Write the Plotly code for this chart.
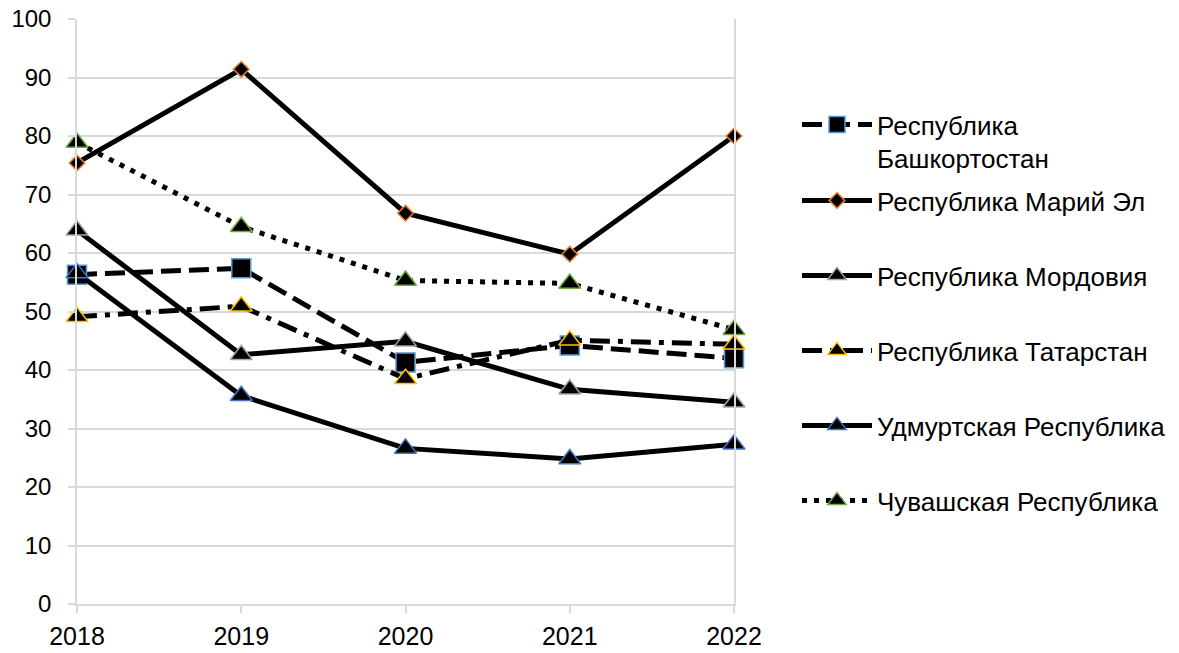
import plotly.graph_objects as go

years = [2018, 2019, 2020, 2021, 2022]

bashkortostan = [56.3, 57.4, 41.3, 44.2, 42.0]
mari_el = [75.4, 91.4, 66.8, 59.8, 80.0]
mordovia = [63.9, 42.6, 44.9, 36.7, 34.5]
tatarstan = [49.1, 50.9, 38.5, 45.1, 44.4]
udmurtia = [56.6, 35.6, 26.6, 24.8, 27.3]
chuvashia = [78.9, 64.5, 55.3, 54.8, 46.9]

y_ticks = list(range(0, 101, 10))

FONT = "Arial, 'Liberation Sans', sans-serif"
FS = 25
GRID = "#D9D9D9"
W, H = 1179, 653

series = [
    ("Республика<br>Башкортостан", bashkortostan, "20px,8px", "square", 19, "#5B9BD5"),
    ("Республика Марий Эл", mari_el, "solid", "diamond", 12, "#ED7D31"),
    ("Республика Мордовия", mordovia, "solid", "triangle-up", 19, "#A5A5A5"),
    ("Республика Татарстан", tatarstan, "20px,8px,5px,8px", "triangle-up", 19, "#FFC000"),
    ("Удмуртская Республика", udmurtia, "solid", "triangle-up", 19, "#4472C4"),
    ("Чувашская Республика", chuvashia, "5px,7px", "triangle-up", 19, "#70AD47"),
]

# центр первой строки каждой записи легенды (px)
legend_px = [124, 200, 275, 350, 425, 500]

fig = go.Figure()
layout_legends = {}
for idx, (name, vals, dash, sym, size, edge) in enumerate(series):
    lg = "legend" if idx == 0 else f"legend{idx + 1}"
    fig.add_trace(go.Scatter(
        x=years, y=vals, name=name, mode="lines+markers",
        line=dict(color="black", width=5, dash=dash),
        marker=dict(symbol=sym, size=size, color="black",
                    line=dict(color=edge, width=1.5)),
        cliponaxis=False, legend=lg,
    ))
    top = legend_px[idx] - 23
    layout_legends[lg] = dict(
        xref="container", yref="container",
        x=797 / W, y=1 - top / H,
        xanchor="left", yanchor="top", valign="top",
        itemwidth=70, font=dict(family=FONT, size=26, color="black"),
        bgcolor="rgba(0,0,0,0)", borderwidth=0,
    )

fig.update_layout(
    width=W, height=H,
    paper_bgcolor="white", plot_bgcolor="white",
    margin=dict(l=77, r=445, t=19, b=49),
    font=dict(family=FONT, size=FS, color="black"),
    showlegend=True,
    xaxis=dict(
        range=[2018, 2022], tickvals=years, ticktext=[str(y) for y in years],
        showgrid=False, zeroline=False, automargin=False,
        showline=True, linecolor=GRID, linewidth=1.5,
        ticks="outside", ticklen=7, tickcolor=GRID, tickwidth=1.5,
        ticklabelstandoff=2, ticklabeloverflow="allow",
    ),
    yaxis=dict(
        range=[0, 100], tickvals=y_ticks, automargin=False,
        showgrid=True, gridcolor=GRID, gridwidth=1.5, zeroline=False,
        showline=True, linecolor=GRID, linewidth=1.5, mirror=True,
        ticks="outside", ticklen=7, tickcolor=GRID, tickwidth=1.5,
        ticklabelstandoff=12, ticklabeloverflow="allow",
        tickfont=dict(size=24),
    ),
    **layout_legends,
)

fig.write_html(
    "out.html",
    config={"displayModeBar": False},
    post_script="document.body.style.margin = '0';",
)
